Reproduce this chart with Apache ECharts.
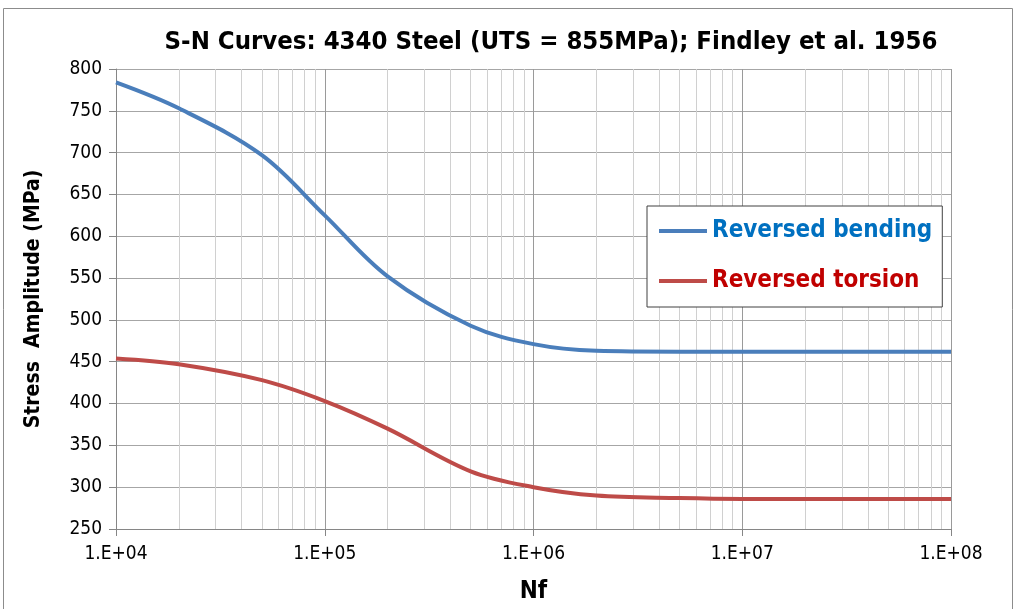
<!DOCTYPE html>
<html><head><meta charset="utf-8">
<script src="https://cdn.jsdelivr.net/npm/echarts@6/dist/echarts.min.js"></script>
<style>html,body{margin:0;padding:0;background:#fff}#c{width:1016px;height:609px}</style>
</head><body><div id="c"></div>
<script>
const titleText = 'S-N Curves: 4340 Steel (UTS = 855MPa); Findley et al. 1956';
const xName = 'Nf';
const yName = 'Stress  Amplitude (MPa)';
const seriesNames = ['Reversed bending', 'Reversed torsion'];
const cycles = [1e4, 2e4, 5e4, 1e5, 2e5, 5e5, 1e6, 2e6, 5e6, 1e7, 2e7, 5e7, 1e8];
const bending = [784, 753, 697, 625, 552, 493, 471, 463, 462, 462, 462, 462, 462];
const torsion = [454, 447, 428, 403, 370, 319, 300, 290, 287, 286, 286, 286, 286];
const minorMultipliers = [2, 3, 4, 5, 6, 7, 8, 9];
const decades = [1e4, 1e5, 1e6, 1e7];

const FONT = '"Liberation Sans Narrow","DejaVu Sans Condensed","Liberation Sans",sans-serif';
const minorLines = [];
decades.forEach(d => minorMultipliers.forEach(m => minorLines.push({ xAxis: d * m })));

const chart = echarts.init(document.getElementById('c'), null, { renderer: 'canvas' });
chart.setOption({
  animation: false,
  backgroundColor: '#fff',
  title: {
    text: titleText, left: 546, top: 24, textAlign: 'center',
    textStyle: { fontFamily: FONT, fontWeight: 'bold', fontSize: 25.5, color: '#000' }
  },
  graphic: [{
    type: 'rect', shape: { x: 3.5, y: 8.5, width: 1009, height: 620 },
    style: { fill: 'none', stroke: '#8c8c8c', lineWidth: 1 }, silent: true, z: -10
  }],
  legend: {
    orient: 'vertical', left: 647, top: 206, z: 20,
    padding: [13, 10, 14, 12], itemGap: 26,
    backgroundColor: '#fff', borderColor: '#404040', borderWidth: 1,
    itemWidth: 48, itemHeight: 4, icon: 'rect',
    data: [
      { name: seriesNames[0], textStyle: { color: '#0070C0' } },
      { name: seriesNames[1], textStyle: { color: '#C00000' } }
    ],
    textStyle: { fontFamily: FONT, fontWeight: 'bold', fontSize: 24, padding: [0, 0, 0, 0] }
  },
  grid: { left: 116, right: 65, top: 69, bottom: 80 },
  xAxis: {
    type: 'log', logBase: 10, min: 1e4, max: 1e8,
    name: xName, nameLocation: 'middle', nameGap: 51,
    nameTextStyle: { fontFamily: FONT, fontWeight: 'bold', fontSize: 24, color: '#000' },
    axisLine: { show: true, lineStyle: { color: '#868686', width: 1 } },
    axisTick: { show: true, length: 7, lineStyle: { color: '#868686' } },
    axisLabel: {
      fontFamily: FONT, fontSize: 19, color: '#000', margin: 16,
      formatter: v => '1.E+' + String(Math.round(Math.log10(v))).padStart(2, '0')
    },
    splitLine: { show: true, lineStyle: { color: '#9a9a9a', width: 1 } }
  },
  yAxis: {
    type: 'value', min: 250, max: 800, interval: 50,
    name: yName, nameLocation: 'middle', nameGap: 72,
    nameTextStyle: { fontFamily: FONT, fontWeight: 'bold', fontSize: 21, color: '#000' },
    axisLine: { show: true, lineStyle: { color: '#868686', width: 1 } },
    axisTick: { show: true, length: 7, lineStyle: { color: '#868686' } },
    axisLabel: { fontFamily: FONT, fontSize: 19, color: '#000', margin: 14 },
    splitLine: { show: true, lineStyle: { color: '#a6a6a6', width: 1 } }
  },
  series: [
    {
      name: '__minor', type: 'line', data: [], silent: true,
      markLine: {
        silent: true, symbol: 'none', label: { show: false },
        lineStyle: { color: '#d0d0d0', width: 1, type: 'solid' },
        data: minorLines, animation: false
      }, z: 1
    },
    {
      name: seriesNames[0], type: 'line', smooth: 0.35, showSymbol: false,
      data: cycles.map((c, i) => [c, bending[i]]),
      lineStyle: { color: '#4A7EBB', width: 4 }, itemStyle: { color: '#4A7EBB' }, z: 5
    },
    {
      name: seriesNames[1], type: 'line', smooth: 0.35, showSymbol: false,
      data: cycles.map((c, i) => [c, torsion[i]]),
      lineStyle: { color: '#BE4B48', width: 4 }, itemStyle: { color: '#BE4B48' }, z: 5
    }
  ]
});
</script></body></html>
